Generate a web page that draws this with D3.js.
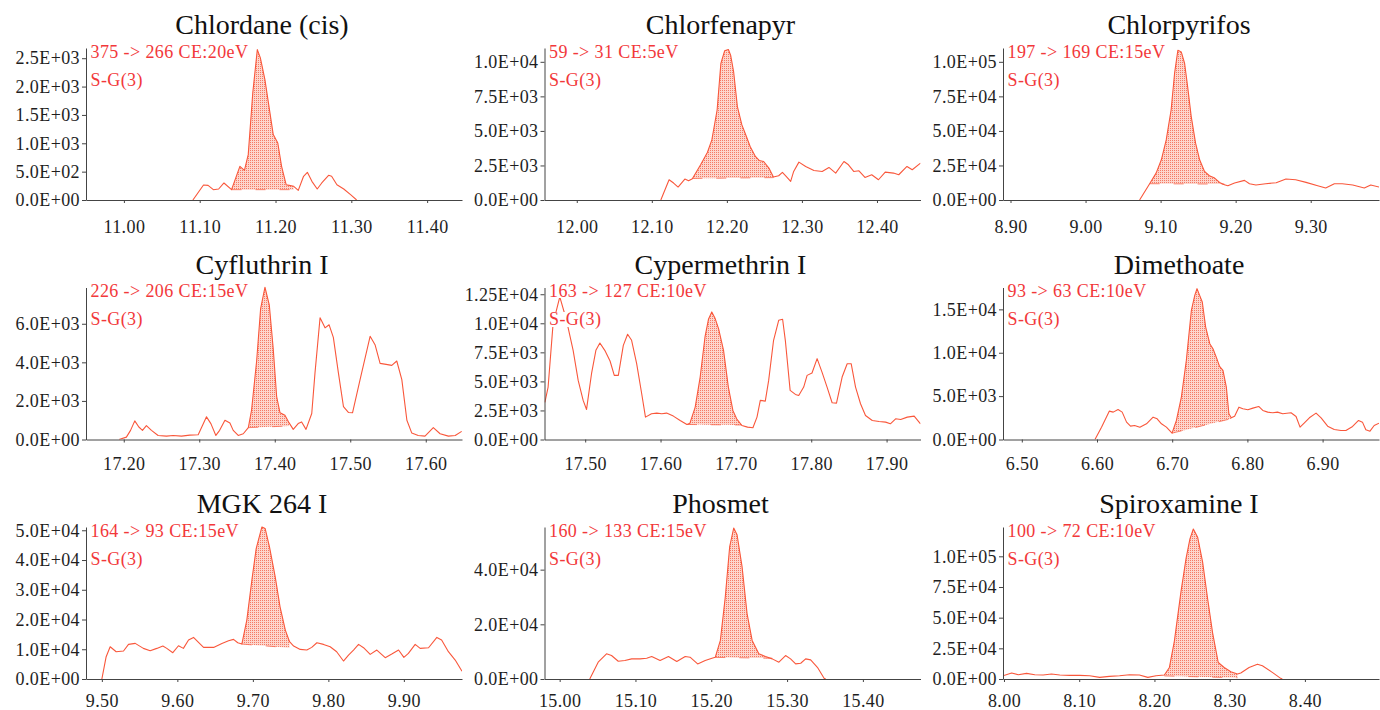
<!DOCTYPE html>
<html>
<head>
<meta charset="utf-8">
<script src="https://cdn.jsdelivr.net/npm/d3@7"></script>
<style>
  body { margin: 0; background: #fff; }
  svg { display: block; }
</style>
</head>
<body>
<svg id="chart" width="1380" height="710"></svg>
<script>
// compound names and MRM transitions
const compounds = ['Chlordane (cis)', 'Chlorfenapyr', 'Chlorpyrifos',
  'Cyfluthrin I', 'Cypermethrin I', 'Dimethoate',
  'MGK 264 I', 'Phosmet', 'Spiroxamine I'];
const transitions = ['375 -> 266 CE:20eV', '59 -> 31 CE:5eV', '197 -> 169 CE:15eV',
  '226 -> 206 CE:15eV', '163 -> 127 CE:10eV', '93 -> 63 CE:10eV',
  '164 -> 93 CE:15eV', '160 -> 133 CE:15eV', '100 -> 72 CE:10eV'];
const smoothing = 'S-G(3)';

// retention time window (min) and intensity max shown on each axis
const timeRanges = [[10.95, 11.446], [11.957, 12.458], [8.89, 9.391],
  [17.15, 17.648], [17.446, 17.945], [6.475, 6.975],
  [9.479, 9.977], [14.98, 15.476], [7.9987, 8.4985]];
const intensityMax = [2680, 11000, 110000, 7880, 13080, 17520, 51100, 55600, 123900];

const timeTicks = [
  [11.0, 11.1, 11.2, 11.3, 11.4], [12.0, 12.1, 12.2, 12.3, 12.4], [8.9, 9.0, 9.1, 9.2, 9.3],
  [17.2, 17.3, 17.4, 17.5, 17.6], [17.5, 17.6, 17.7, 17.8, 17.9], [6.5, 6.6, 6.7, 6.8, 6.9],
  [9.5, 9.6, 9.7, 9.8, 9.9], [15.0, 15.1, 15.2, 15.3, 15.4], [8.0, 8.1, 8.2, 8.3, 8.4]];
const intensityTicks = [
  [0, 500, 1000, 1500, 2000, 2500], [0, 2500, 5000, 7500, 10000], [0, 25000, 50000, 75000, 100000],
  [0, 2000, 4000, 6000], [0, 2500, 5000, 7500, 10000, 12500], [0, 5000, 10000, 15000],
  [0, 10000, 20000, 30000, 40000, 50000], [0, 20000, 40000], [0, 25000, 50000, 75000, 100000]];

// chromatogram traces [time, counts]
const chlordaneCis = [[11.091,0],[11.105,265],[11.111,258],[11.118,182],[11.125,194],[11.132,300],
  [11.142,182],[11.153,594],[11.159,523],[11.164,800],[11.170,1888],[11.176,2652],[11.180,2505],
  [11.186,2123],[11.192,1594],[11.197,1153],[11.203,1005],[11.208,594],[11.214,270],[11.218,258],
  [11.224,241],[11.230,170],[11.237,418],[11.242,488],[11.248,329],[11.255,194],[11.261,300],
  [11.270,435],[11.274,418],[11.281,270],[11.290,194],[11.299,94],[11.307,0]];
const chlorfenapyr = [[12.112,0],[12.123,1466],[12.129,1226],[12.135,938],[12.144,1514],[12.149,1394],
  [12.154,1538],[12.165,2548],[12.174,3437],[12.180,4351],[12.187,6514],[12.192,9880],[12.197,10794],
  [12.202,10890],[12.205,10480],[12.209,9280],[12.214,6755],[12.220,5433],[12.226,4591],[12.231,3870],
  [12.238,3149],[12.243,2860],[12.249,2788],[12.256,2308],[12.262,1659],[12.269,1755],[12.274,1995],
  [12.279,1707],[12.285,1346],[12.289,2067],[12.296,2740],[12.305,2428],[12.316,2140],[12.327,2067],
  [12.336,2356],[12.345,1947],[12.356,2788],[12.362,2548],[12.369,2067],[12.376,2116],[12.384,1635],
  [12.393,1827],[12.402,1466],[12.411,2019],[12.422,1947],[12.429,1827],[12.440,2428],[12.447,2188],
  [12.458,2668]];
const chlorpyrifos = [[9.072,0],[9.0854,11780],[9.094,19470],[9.101,29090],[9.1075,43510],[9.114,65150],
  [9.1186,91590],[9.123,108400],[9.1275,107200],[9.132,98800],[9.136,82000],[9.1408,60340],
  [9.1466,41100],[9.152,29090],[9.1585,20670],[9.165,17550],[9.172,15870],[9.1785,12740],[9.185,11060],
  [9.1896,10340],[9.1985,12260],[9.2118,14180],[9.2184,11780],[9.227,10820],[9.240,11780],[9.254,12500],
  [9.267,15150],[9.280,14660],[9.2938,12740],[9.3093,10340],[9.320,8650],[9.3315,11780],[9.342,11780],
  [9.356,10820],[9.3714,8650],[9.380,10820],[9.3914,9380]];
const cyfluthrin = [[17.1938,0],[17.2035,123],[17.209,474],[17.2146,965],[17.220,649],[17.2248,474],
  [17.230,719],[17.2367,474],[17.2455,210],[17.2566,175],[17.2654,210],[17.2765,175],[17.2875,228],
  [17.2986,245],[17.3096,1175],[17.3154,824],[17.322,210],[17.327,474],[17.334,1000],[17.3406,860],
  [17.345,474],[17.3516,210],[17.3583,298],[17.365,614],[17.3693,1526],[17.376,4070],[17.3813,6788],
  [17.387,7893],[17.3928,6963],[17.398,4683],[17.4025,2228],[17.407,1386],[17.4135,1263],[17.419,860],
  [17.4245,526],[17.431,824],[17.4356,912],[17.4414,526],[17.449,1350],[17.4533,3455],[17.46,6314],
  [17.4666,5788],[17.472,5946],[17.4776,5297],[17.4843,3455],[17.491,1701],[17.4975,1403],[17.503,1386],
  [17.513,3104],[17.5263,5350],[17.533,4894],[17.5395,3947],[17.5475,3894],[17.555,3841],[17.5616,4070],
  [17.5683,3104],[17.575,1000],[17.5815,333],[17.590,210],[17.599,175],[17.61,614],[17.619,298],
  [17.630,175],[17.639,210],[17.6476,421]];
const cypermethrin = [[17.4465,3200],[17.4508,4512],[17.4574,9973],[17.4663,12270],[17.4752,10260],
  [17.484,7673],[17.4907,5087],[17.4973,3363],[17.5018,2587],[17.5084,5662],[17.5142,7673],[17.5195,8306],
  [17.526,7673],[17.533,6754],[17.5386,5518],[17.544,5518],[17.5506,8104],[17.5563,9053],[17.5616,8536],
  [17.5683,6524],[17.575,3937],[17.580,1926],[17.588,2213],[17.595,2270],[17.6016,2213],[17.608,2270],
  [17.617,2012],[17.626,1638],[17.635,1293],[17.639,1408],[17.646,2788],[17.6526,5374],[17.659,8823],
  [17.6636,10346],[17.668,10978],[17.6725,10404],[17.677,9541],[17.6836,7673],[17.690,4512],[17.696,2500],
  [17.701,1782],[17.708,1207],[17.7155,1063],[17.7226,1006],[17.728,1926],[17.7324,3363],[17.739,3305],
  [17.7435,5087],[17.750,8536],[17.7568,10260],[17.762,10346],[17.7656,8536],[17.772,4225],[17.779,3880],
  [17.7834,3794],[17.79,4512],[17.7945,5518],[17.801,5719],[17.8078,6955],[17.8144,5777],[17.821,4512],
  [17.8277,3162],[17.8335,3133],[17.841,5374],[17.8477,6524],[17.853,6524],[17.8588,4512],[17.8654,3075],
  [17.872,2069],[17.881,1638],[17.89,1552],[17.8987,1494],[17.905,1351],[17.912,1782],[17.9187,1724],
  [17.9275,1926],[17.9366,2012],[17.945,1351]];
const dimethoate = [[6.5973,0],[6.606,1423],[6.6163,3269],[6.6216,3154],[6.628,3461],[6.6335,3154],
  [6.6393,2000],[6.6446,1538],[6.650,1615],[6.657,1423],[6.6658,1808],[6.6746,2577],[6.680,2385],
  [6.6857,1808],[6.6923,1423],[6.6998,731],[6.7056,2192],[6.7122,4885],[6.7188,9115],[6.7255,14884],
  [6.730,16615],[6.733,17384],[6.7365,16615],[6.740,15846],[6.7445,12960],[6.750,11038],[6.7542,10461],
  [6.7586,9500],[6.763,8423],[6.7675,7961],[6.772,6038],[6.7754,2961],[6.7785,2500],[6.783,2692],
  [6.7887,3730],[6.794,3538],[6.8006,3423],[6.8073,3615],[6.815,3807],[6.8205,3346],[6.827,3154],
  [6.8338,3077],[6.840,3154],[6.847,2961],[6.858,3077],[6.8647,2654],[6.870,1423],[6.8758,1923],
  [6.8824,2500],[6.8913,3038],[6.898,2500],[6.9067,1538],[6.9155,1154],[6.9244,1038],[6.931,1038],
  [6.9399,1500],[6.9478,2192],[6.953,2000],[6.9575,1115],[6.963,962],[6.9686,1615],[6.975,1885]];
const mgk264 = [[9.50,0],[9.5057,7495],[9.511,10850],[9.519,9173],[9.5287,9400],[9.5353,11633],
  [9.5442,11969],[9.555,10291],[9.564,9508],[9.5728,10291],[9.5808,11074],[9.586,10291],[9.594,8837],
  [9.6015,11186],[9.608,10291],[9.6148,13088],[9.6214,13983],[9.628,12305],[9.6347,10627],[9.648,10627],
  [9.659,11969],[9.6678,12864],[9.6744,13311],[9.68,12193],[9.6854,11745],[9.692,19800],[9.6987,33222],
  [9.7044,43850],[9.712,51120],[9.7163,50560],[9.722,44410],[9.7296,34340],[9.736,24270],[9.743,16440],
  [9.7486,12530],[9.754,11074],[9.7627,9955],[9.7715,9732],[9.778,10627],[9.7848,12193],[9.7936,11633],
  [9.8024,10850],[9.811,9173],[9.82,6040],[9.8267,8054],[9.8333,9732],[9.84,11633],[9.8466,10515],
  [9.8554,8278],[9.8642,9732],[9.8753,7159],[9.884,8389],[9.893,9732],[9.90,7271],[9.906,8613],
  [9.915,11633],[9.9216,10291],[9.9327,10515],[9.9437,13983],[9.950,13088],[9.959,9173],[9.968,6376],
  [9.977,2600]];
const phosmet = [[15.0397,0],[15.0508,6135],[15.0618,9202],[15.0684,8589],[15.0773,6503],[15.086,6748],
  [15.095,7362],[15.106,7362],[15.1148,7607],[15.1214,8221],[15.1325,6748],[15.1435,8221],[15.1545,6380],
  [15.1656,8221],[15.172,7975],[15.182,5521],[15.192,6748],[15.2009,7607],[15.2053,7975],[15.212,14110],
  [15.2185,30060],[15.2243,48466],[15.2296,55215],[15.234,52760],[15.2406,41100],[15.2472,23920],
  [15.2539,14110],[15.2627,9202],[15.2715,8221],[15.2804,7362],[15.2892,6135],[15.298,8589],[15.3046,7362],
  [15.3113,5521],[15.318,5767],[15.3245,7362],[15.3311,6994],[15.340,4294],[15.3488,245],[15.351,0]];
const spiroxamine = [[7.9987,2688],[8.0102,4838],[8.019,3494],[8.030,4570],[8.041,3494],[8.052,3226],
  [8.0631,4032],[8.0742,3226],[8.0874,2957],[8.1006,2957],[8.1139,2688],[8.1272,1344],[8.140,2150],
  [8.1536,2688],[8.1669,3494],[8.180,3226],[8.1912,1344],[8.2022,2688],[8.2132,3226],[8.2199,9408],
  [8.2265,30910],[8.2353,71230],[8.242,98110],[8.2472,114250],[8.2517,122300],[8.2574,115580],
  [8.264,95420],[8.2706,65860],[8.2773,37630],[8.2848,13440],[8.2927,9408],[8.3015,5914],[8.3104,4032],
  [8.3148,4838],[8.3258,9408],[8.3369,12096],[8.3435,10752],[8.3567,5376],[8.3678,538],[8.370,0]];

const traces = [chlordaneCis, chlorfenapyr, chlorpyrifos, cyfluthrin, cypermethrin,
  dimethoate, mgk264, phosmet, spiroxamine];

// integrated peak: [start time, baseline at start, end time, baseline at end]
const peakWindows = [[11.142, 182, 11.224, 182], [12.154, 1560, 12.262, 1620],
  [9.0854, 11780, 9.185, 11500], [17.365, 614, 17.419, 700], [17.635, 1293, 17.708, 1250],
  [6.6998, 731, 6.7785, 2400], [9.6854, 11745, 9.7486, 10500], [15.2053, 7900, 15.2804, 7600],
  [8.2132, 2500, 8.3104, 1000]];

const lineColor = '#f9573b';
const textRed = '#f2383a';
const serif = '"Liberation Serif", "Times New Roman", serif';

const sci = (v) => {
  if (v === 0) return '0.0E+00';
  const e = Math.floor(Math.log10(v) + 1e-9);
  const m = v / Math.pow(10, e);
  const digits = Math.abs(m * 10 - Math.round(m * 10)) < 1e-6 ? 1 : 2;
  return m.toFixed(digits) + 'E+' + String(e).padStart(2, '0');
};

const svg = d3.select('#chart');
const defs = svg.append('defs');

// light stipple used for the integrated peak
const pat = defs.append('pattern')
  .attr('id', 'dots')
  .attr('width', 2).attr('height', 2)
  .attr('patternUnits', 'userSpaceOnUse');
pat.append('rect').attr('width', 2).attr('height', 2).attr('fill', '#fdd5cc');
pat.append('rect').attr('x', 0).attr('y', 0).attr('width', 1).attr('height', 1).attr('fill', '#f47a64');

const plotW = 376, plotH = 152;
const labelPad = [17, 15, 12];

compounds.forEach((name, i) => {
  const c = i % 3, r = Math.floor(i / 3);
  const left = 86 + c * 458.5;
  const top = 48 + r * 239.5;

  const x = d3.scaleLinear().domain(timeRanges[i]).range([left, left + plotW]);
  const y = d3.scaleLinear().domain([0, intensityMax[i]]).range([top + plotH, top]);

  defs.append('clipPath').attr('id', 'clip' + i)
    .append('rect')
      .attr('x', left).attr('y', top - 4)
      .attr('width', plotW).attr('height', plotH + 4);

  const g = svg.append('g').attr('clip-path', `url(#clip${i})`);

  // shaded peak area down to the integration baseline
  const [t1, b1, t2, b2] = peakWindows[i];
  const base = d3.scaleLinear().domain([t1, t2]).range([b1, b2]);
  const peakPts = traces[i].filter(d => d[0] >= t1 - 1e-9 && d[0] <= t2 + 1e-9);

  g.append('path')
    .datum(peakPts)
    .attr('d', d3.area()
      .x(d => x(d[0]))
      .y0(d => y(base(d[0])))
      .y1(d => y(d[1])))
    .attr('fill', 'url(#dots)');

  g.append('line')
    .attr('x1', x(t1)).attr('y1', y(b1))
    .attr('x2', x(t2)).attr('y2', y(b2))
    .attr('stroke', lineColor)
    .attr('stroke-width', 1)
    .attr('stroke-dasharray', '10,14')
    .attr('opacity', 0.7);

  g.append('path')
    .datum(traces[i])
    .attr('d', d3.line().x(d => x(d[0])).y(d => y(d[1])))
    .attr('fill', 'none')
    .attr('stroke', lineColor)
    .attr('stroke-width', 1.1)
    .attr('stroke-linejoin', 'round');

  // axes
  const xAxis = svg.append('g')
    .attr('transform', `translate(0,${top + plotH})`)
    .call(d3.axisBottom(x)
      .tickValues(timeTicks[i])
      .tickFormat(d3.format('.2f'))
      .tickSizeInner(3).tickSizeOuter(0).tickPadding(labelPad[r]));

  const yAxis = svg.append('g')
    .attr('transform', `translate(${left},0)`)
    .call(d3.axisLeft(y)
      .tickValues(intensityTicks[i])
      .tickFormat(sci)
      .tickSizeInner(4).tickSizeOuter(0).tickPadding(2));

  [xAxis, yAxis].forEach(a => {
    a.attr('font-family', serif).attr('font-size', 18);
    a.selectAll('text').attr('fill', '#1e1e1e').attr('letter-spacing', '0.4px');
    a.select('.domain').attr('stroke', '#444');
    a.selectAll('.tick line').attr('stroke', '#444');
  });

  // title
  svg.append('text')
    .attr('x', left - 86 + 262)
    .attr('y', top - 14)
    .attr('text-anchor', 'middle')
    .attr('font-family', serif)
    .attr('font-size', 28)
    .attr('fill', '#111')
    .text(name);

  // transition and smoothing labels (white backed, drawn over the trace)
  [transitions[i], smoothing].forEach((label, k) => {
    const t = svg.append('text')
      .attr('x', left + 4.5)
      .attr('y', top + 9.5 + k * 28)
      .attr('font-family', serif)
      .attr('font-size', 18)
      .attr('letter-spacing', '0.4px')
      .attr('fill', textRed)
      .text(label);
    const bb = t.node().getBBox();
    svg.insert('rect', () => t.node())
      .attr('x', bb.x).attr('y', bb.y + 3)
      .attr('width', bb.width).attr('height', bb.height - 6)
      .attr('fill', '#fff');
  });
});
</script>
</body>
</html>
